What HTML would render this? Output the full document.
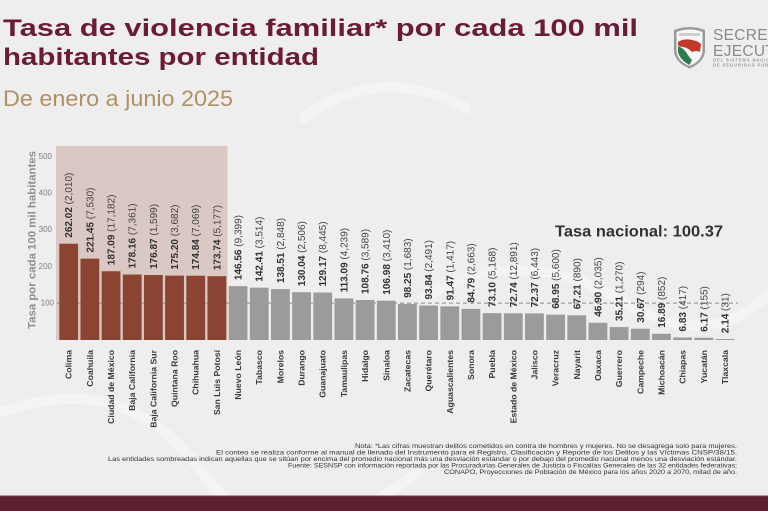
<!DOCTYPE html>
<html>
<head>
<meta charset="utf-8">
<style>
  html,body{margin:0;padding:0;background:#efeeee;}
  svg{display:block;}
  text{font-family:"Liberation Sans", Arial, sans-serif;}
</style>
</head>
<body>
<svg width="768" height="511" viewBox="0 0 768 511" xmlns="http://www.w3.org/2000/svg">
  <rect x="0" y="0" width="768" height="511" fill="#efeeee"/>
  <!-- faint decorative swirls -->
  <g fill="none" stroke="#f6f5f5" stroke-width="10" opacity="0.8">
    <path d="M-20,420 Q120,360 200,470 T420,470"/>
    <path d="M420,300 Q520,240 620,300 T780,280"/>
    <path d="M300,120 Q380,60 470,110"/>
  </g>

  <!-- Title -->
  <text x="3" y="36" font-size="24.5" font-weight="bold" fill="#691c32" textLength="635" lengthAdjust="spacingAndGlyphs">Tasa de violencia familiar* por cada 100 mil</text>
  <text x="3" y="65" font-size="24.5" font-weight="bold" fill="#691c32" textLength="316" lengthAdjust="spacingAndGlyphs">habitantes por entidad</text>
  <text x="3" y="106" font-size="22" fill="#b09065" textLength="230" lengthAdjust="spacingAndGlyphs">De enero a junio 2025</text>

  <!-- Logo -->
  <g>
    <path d="M674,30 Q689.5,24 705,30 L705,50 Q705,62 689.5,68.5 Q674,62 674,50 Z" fill="#9a9a9a"/>
    <path d="M676.5,32 Q689.5,27 702.5,32 L702.5,50 Q702.5,60.5 689.5,66 Q676.5,60.5 676.5,50 Z" fill="#f7f7f7"/>
    <rect x="679" y="33" width="21" height="3" fill="#cfcfcf"/>
    <path d="M678,42 Q684,38 692,40 Q698,41 701,44 L700,52 Q696,50 692,52 Q688,48 684,47 Q680,47 678,45 Z" fill="#c0392b"/>
    <path d="M678,46 Q683,48 686,52 Q689,57 692,60 L689.5,65 Q680,60 678,52 Z" fill="#2e7d4f"/>
    <text x="713" y="40" font-family="Liberation Serif, serif" font-size="15.5" fill="#8a8a8a" letter-spacing="0.3">SECRETARIADO</text>
    <text x="713" y="56" font-family="Liberation Serif, serif" font-size="15.5" fill="#8a8a8a" letter-spacing="0.3">EJECUTIVO</text>
    <text x="713" y="61.5" font-size="4.3" font-weight="bold" fill="#9a9a9a" letter-spacing="0.8">DEL SISTEMA NACIONAL</text>
    <text x="713" y="66.5" font-size="4.3" font-weight="bold" fill="#9a9a9a" letter-spacing="0.8">DE SEGURIDAD PÚBLICA</text>
  </g>

  <!-- Shaded region -->
  <rect x="56" y="146" width="171.5" height="194" fill="#dac8c4"/>

  <!-- Y axis title -->
  <text transform="translate(35.5,240) rotate(-90)" text-anchor="middle" font-size="11" font-weight="bold" fill="#8f8f8f" textLength="178" lengthAdjust="spacingAndGlyphs">Tasa por cada 100 mil habitantes</text>

  <!-- Y ticks -->
  <g font-size="8" fill="#7f7f7f" text-anchor="end">
    <text x="52" y="159">500</text>
    <text x="52" y="195.5">400</text>
    <text x="52" y="232">300</text>
    <text x="52" y="269">200</text>
    <text x="54" y="305.5">100</text>
  </g>

  <!-- National dashed line -->
  <line x1="57" y1="303.1" x2="738" y2="303.1" stroke="#9d9d9d" stroke-width="1.2" stroke-dasharray="4 3"/>

  <!-- Bars -->
  <g fill="#8c4432">
    <rect x="59.3" y="243.71" width="18.8" height="96.29"/>
    <rect x="80.47" y="258.62" width="18.8" height="81.38"/>
    <rect x="101.64" y="271.24" width="18.8" height="68.76"/>
    <rect x="122.81" y="274.53" width="18.8" height="65.47"/>
    <rect x="143.98" y="275.0" width="18.8" height="65.0"/>
    <rect x="165.15" y="275.61" width="18.8" height="64.39"/>
    <rect x="186.32" y="275.75" width="18.8" height="64.25"/>
    <rect x="207.49" y="276.15" width="18.8" height="63.85"/>
  </g>
  <g fill="#9b9b9b">
    <rect x="228.66" y="286.14" width="18.8" height="53.86"/>
    <rect x="249.83" y="287.66" width="18.8" height="52.34"/>
    <rect x="271.0" y="289.1" width="18.8" height="50.9"/>
    <rect x="292.17" y="292.21" width="18.8" height="47.79"/>
    <rect x="313.34" y="292.53" width="18.8" height="47.47"/>
    <rect x="334.51" y="298.44" width="18.8" height="41.56"/>
    <rect x="355.68" y="300.03" width="18.8" height="39.97"/>
    <rect x="376.85" y="300.68" width="18.8" height="39.32"/>
    <rect x="398.02" y="303.89" width="18.8" height="36.11"/>
    <rect x="419.19" y="305.51" width="18.8" height="34.49"/>
    <rect x="440.36" y="306.38" width="18.8" height="33.62"/>
    <rect x="461.53" y="308.84" width="18.8" height="31.16"/>
    <rect x="482.7" y="313.14" width="18.8" height="26.86"/>
    <rect x="503.87" y="313.27" width="18.8" height="26.73"/>
    <rect x="525.04" y="313.4" width="18.8" height="26.6"/>
    <rect x="546.21" y="314.66" width="18.8" height="25.34"/>
    <rect x="567.38" y="315.3" width="18.8" height="24.7"/>
    <rect x="588.55" y="322.76" width="18.8" height="17.24"/>
    <rect x="609.72" y="327.06" width="18.8" height="12.94"/>
    <rect x="630.89" y="328.73" width="18.8" height="11.27"/>
    <rect x="652.06" y="333.79" width="18.8" height="6.21"/>
    <rect x="673.23" y="337.49" width="18.8" height="2.51"/>
    <rect x="694.4" y="337.73" width="18.8" height="2.27"/>
    <rect x="715.57" y="339.0" width="18.8" height="1.0"/>
  </g>

  <!-- Value labels -->
  <g font-size="10" fill="#333">
    <text transform="translate(72.2,237.7) rotate(-90)"><tspan font-weight="bold">262.02</tspan><tspan fill="#444"> (2,010)</tspan></text>
    <text transform="translate(93.37,252.6) rotate(-90)"><tspan font-weight="bold">221.45</tspan><tspan fill="#444"> (7,530)</tspan></text>
    <text transform="translate(114.54,265.2) rotate(-90)"><tspan font-weight="bold">187.09</tspan><tspan fill="#444"> (17,182)</tspan></text>
    <text transform="translate(135.71,268.5) rotate(-90)"><tspan font-weight="bold">178.16</tspan><tspan fill="#444"> (7,361)</tspan></text>
    <text transform="translate(156.88,269.0) rotate(-90)"><tspan font-weight="bold">176.87</tspan><tspan fill="#444"> (1,599)</tspan></text>
    <text transform="translate(178.05,269.6) rotate(-90)"><tspan font-weight="bold">175.20</tspan><tspan fill="#444"> (3,682)</tspan></text>
    <text transform="translate(199.22,269.75) rotate(-90)"><tspan font-weight="bold">174.84</tspan><tspan fill="#444"> (7,069)</tspan></text>
    <text transform="translate(220.39,270.15) rotate(-90)"><tspan font-weight="bold">173.74</tspan><tspan fill="#444"> (5,177)</tspan></text>
    <text transform="translate(241.56,280.1) rotate(-90)"><tspan font-weight="bold">146.56</tspan><tspan fill="#444"> (9,399)</tspan></text>
    <text transform="translate(262.73,281.7) rotate(-90)"><tspan font-weight="bold">142.41</tspan><tspan fill="#444"> (3,514)</tspan></text>
    <text transform="translate(283.9,283.1) rotate(-90)"><tspan font-weight="bold">138.51</tspan><tspan fill="#444"> (2,848)</tspan></text>
    <text transform="translate(305.07,286.2) rotate(-90)"><tspan font-weight="bold">130.04</tspan><tspan fill="#444"> (2,506)</tspan></text>
    <text transform="translate(326.24,286.5) rotate(-90)"><tspan font-weight="bold">129.17</tspan><tspan fill="#444"> (8,445)</tspan></text>
    <text transform="translate(347.41,292.4) rotate(-90)"><tspan font-weight="bold">113.09</tspan><tspan fill="#444"> (4,239)</tspan></text>
    <text transform="translate(368.58,294.0) rotate(-90)"><tspan font-weight="bold">108.76</tspan><tspan fill="#444"> (3,589)</tspan></text>
    <text transform="translate(389.75,294.7) rotate(-90)"><tspan font-weight="bold">106.98</tspan><tspan fill="#444"> (3,410)</tspan></text>
    <text transform="translate(410.92,297.9) rotate(-90)"><tspan font-weight="bold">98.25</tspan><tspan fill="#444"> (1,683)</tspan></text>
    <text transform="translate(432.09,299.5) rotate(-90)"><tspan font-weight="bold">93.84</tspan><tspan fill="#444"> (2,491)</tspan></text>
    <text transform="translate(453.26,300.4) rotate(-90)"><tspan font-weight="bold">91.47</tspan><tspan fill="#444"> (1,417)</tspan></text>
    <text transform="translate(474.43,302.8) rotate(-90)"><tspan font-weight="bold">84.79</tspan><tspan fill="#444"> (2,663)</tspan></text>
    <text transform="translate(495.6,307.1) rotate(-90)"><tspan font-weight="bold">73.10</tspan><tspan fill="#444"> (5,168)</tspan></text>
    <text transform="translate(516.77,307.3) rotate(-90)"><tspan font-weight="bold">72.74</tspan><tspan fill="#444"> (12,891)</tspan></text>
    <text transform="translate(537.94,307.4) rotate(-90)"><tspan font-weight="bold">72.37</tspan><tspan fill="#444"> (6,443)</tspan></text>
    <text transform="translate(559.11,308.7) rotate(-90)"><tspan font-weight="bold">68.95</tspan><tspan fill="#444"> (5,600)</tspan></text>
    <text transform="translate(580.28,309.3) rotate(-90)"><tspan font-weight="bold">67.21</tspan><tspan fill="#444"> (890)</tspan></text>
    <text transform="translate(601.45,316.8) rotate(-90)"><tspan font-weight="bold">46.90</tspan><tspan fill="#444"> (2,035)</tspan></text>
    <text transform="translate(622.62,321.1) rotate(-90)"><tspan font-weight="bold">35.21</tspan><tspan fill="#444"> (1,270)</tspan></text>
    <text transform="translate(643.79,322.7) rotate(-90)"><tspan font-weight="bold">30.67</tspan><tspan fill="#444"> (294)</tspan></text>
    <text transform="translate(664.96,327.8) rotate(-90)"><tspan font-weight="bold">16.89</tspan><tspan fill="#444"> (852)</tspan></text>
    <text transform="translate(686.13,331.5) rotate(-90)"><tspan font-weight="bold">6.83</tspan><tspan fill="#444"> (417)</tspan></text>
    <text transform="translate(707.3,331.7) rotate(-90)"><tspan font-weight="bold">6.17</tspan><tspan fill="#444"> (155)</tspan></text>
    <text transform="translate(728.47,333.2) rotate(-90)"><tspan font-weight="bold">2.14</tspan><tspan fill="#444"> (31)</tspan></text>
  </g>

  <!-- Tasa nacional -->
  <text x="555" y="236.7" font-size="16" font-weight="bold" fill="#333" textLength="168" lengthAdjust="spacingAndGlyphs">Tasa nacional: 100.37</text>

  <!-- X labels -->
  <g font-size="8.7" font-weight="bold" fill="#3a3a3a" text-anchor="end">
    <text transform="translate(71.7,350) rotate(-90)">Colima</text>
    <text transform="translate(92.87,350) rotate(-90)">Coahuila</text>
    <text transform="translate(114.04,350) rotate(-90)">Ciudad de México</text>
    <text transform="translate(135.21,350) rotate(-90)">Baja California</text>
    <text transform="translate(156.38,350) rotate(-90)">Baja California Sur</text>
    <text transform="translate(177.55,350) rotate(-90)">Quintana Roo</text>
    <text transform="translate(198.72,350) rotate(-90)">Chihuahua</text>
    <text transform="translate(219.89,350) rotate(-90)">San Luis Potosí</text>
    <text transform="translate(241.06,350) rotate(-90)">Nuevo León</text>
    <text transform="translate(262.23,350) rotate(-90)">Tabasco</text>
    <text transform="translate(283.4,350) rotate(-90)">Morelos</text>
    <text transform="translate(304.57,350) rotate(-90)">Durango</text>
    <text transform="translate(325.74,350) rotate(-90)">Guanajuato</text>
    <text transform="translate(346.91,350) rotate(-90)">Tamaulipas</text>
    <text transform="translate(368.08,350) rotate(-90)">Hidalgo</text>
    <text transform="translate(389.25,350) rotate(-90)">Sinaloa</text>
    <text transform="translate(410.42,350) rotate(-90)">Zacatecas</text>
    <text transform="translate(431.59,350) rotate(-90)">Querétaro</text>
    <text transform="translate(452.76,350) rotate(-90)">Aguascalientes</text>
    <text transform="translate(473.93,350) rotate(-90)">Sonora</text>
    <text transform="translate(495.1,350) rotate(-90)">Puebla</text>
    <text transform="translate(516.27,350) rotate(-90)">Estado de México</text>
    <text transform="translate(537.44,350) rotate(-90)">Jalisco</text>
    <text transform="translate(558.61,350) rotate(-90)">Veracruz</text>
    <text transform="translate(579.78,350) rotate(-90)">Nayarit</text>
    <text transform="translate(600.95,350) rotate(-90)">Oaxaca</text>
    <text transform="translate(622.12,350) rotate(-90)">Guerrero</text>
    <text transform="translate(643.29,350) rotate(-90)">Campeche</text>
    <text transform="translate(664.46,350) rotate(-90)">Michoacán</text>
    <text transform="translate(685.63,350) rotate(-90)">Chiapas</text>
    <text transform="translate(706.8,350) rotate(-90)">Yucatán</text>
    <text transform="translate(727.97,350) rotate(-90)">Tlaxcala</text>
  </g>

  <!-- Notes -->
  <g font-size="6" fill="#333" text-anchor="end">
    <text x="737" y="448" textLength="382" lengthAdjust="spacingAndGlyphs">Nota: *Las cifras muestran delitos cometidos en contra de hombres y mujeres. No se desagrega solo para mujeres.</text>
    <text x="737" y="454.5" textLength="521" lengthAdjust="spacingAndGlyphs">El conteo se realiza conforme al manual de llenado del Instrumento para el Registro, Clasificación y Reporte de los Delitos y las Víctimas CNSP/38/15.</text>
    <text x="737" y="461" textLength="629" lengthAdjust="spacingAndGlyphs">Las entidades sombreadas indican aquellas que se sitúan por encima del promedio nacional más una desviación estándar o por debajo del promedio nacional menos una desviación estándar.</text>
    <text x="737" y="467.5" textLength="449" lengthAdjust="spacingAndGlyphs">Fuente: SESNSP con información reportada por las Procuradurías Generales de Justicia o Fiscalías Generales de las 32 entidades federativas;</text>
    <text x="737" y="474" textLength="293" lengthAdjust="spacingAndGlyphs">CONAPO, Proyecciones de Población de México para los años 2020 a 2070, mitad de año.</text>
  </g>

  <!-- Bottom band -->
  <rect x="0" y="495.5" width="768" height="1" fill="#7a3a48"/>
  <rect x="0" y="496.5" width="768" height="14.5" fill="#5b1f2d"/>
</svg>
</body>
</html>
